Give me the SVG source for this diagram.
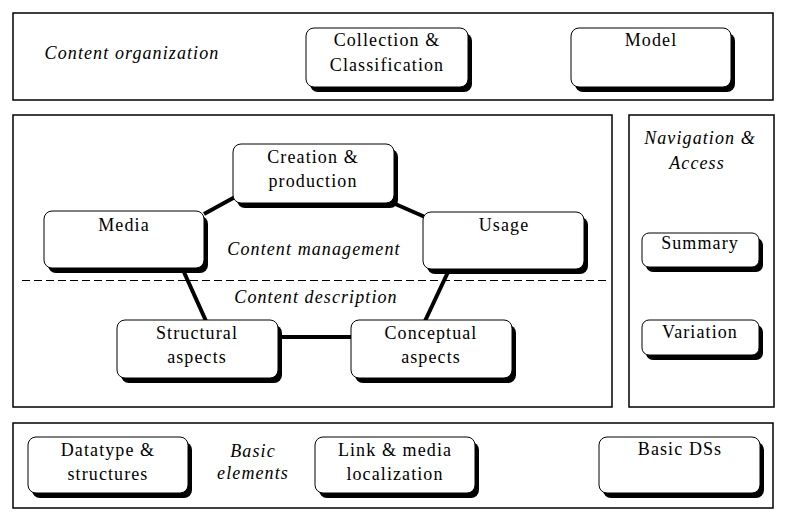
<svg xmlns="http://www.w3.org/2000/svg" width="791" height="518" viewBox="0 0 791 518">
<style>
.panel{fill:#fff;stroke:#000;stroke-width:1.5}
.sh{fill:#000}
.box{fill:#fff;stroke:#000;stroke-width:1}
.t{font-family:"Liberation Serif","Times New Roman",serif;font-size:18px;letter-spacing:1.1px;text-anchor:middle;fill:#000}
.i{font-style:italic}
.conn{stroke:#000;stroke-width:4;fill:none}
</style>
<rect width="791" height="518" fill="#fff"/>
<g id="panels">
<rect class="panel" x="13" y="13" width="760" height="87"/>
<rect class="panel" x="13" y="115" width="599" height="292"/>
<rect class="panel" x="629" y="115" width="145" height="292"/>
<rect class="panel" x="13" y="423" width="760" height="85"/>
<line x1="22" y1="280.5" x2="607" y2="280.5" stroke="#000" stroke-width="1" stroke-dasharray="8 4"/>
</g>
<g id="labels">
<text class="t i" x="132" y="59">Content organization</text>
<text class="t i" x="314" y="255">Content management</text>
<text class="t i" x="316" y="303">Content description</text>
<text class="t i" x="700" y="144">Navigation &amp;</text>
<text class="t i" x="697" y="169">Access</text>
<text class="t i" x="253" y="457">Basic</text>
<text class="t i" x="253" y="479">elements</text>
</g>
<g id="connectors">
<line class="conn" x1="204" y1="214" x2="235" y2="197"/>
<line class="conn" x1="393" y1="203" x2="425" y2="217"/>
<line class="conn" x1="183" y1="270" x2="206" y2="321"/>
<line class="conn" x1="448" y1="272" x2="425" y2="321"/>
<line class="conn" x1="278" y1="337" x2="351" y2="337"/>
</g>
<g id="collection">
<rect class="sh" x="310" y="33" width="162" height="59" rx="8"/>
<rect class="box" x="306" y="28" width="162" height="59" rx="8"/>
<text class="t" x="387" y="46">Collection &amp;</text>
<text class="t" x="387" y="71">Classification</text>
</g>
<g id="model">
<rect class="sh" x="575" y="33" width="160" height="59" rx="8"/>
<rect class="box" x="571" y="28" width="160" height="59" rx="8"/>
<text class="t" x="651" y="46">Model</text>
</g>
<g id="creation">
<rect class="sh" x="237" y="149" width="161" height="59" rx="8"/>
<rect class="box" x="233" y="144" width="161" height="59" rx="8"/>
<text class="t" x="313" y="163">Creation &amp;</text>
<text class="t" x="313" y="187">production</text>
</g>
<g id="media">
<rect class="sh" x="48" y="216" width="160" height="57" rx="8"/>
<rect class="box" x="44" y="211" width="160" height="57" rx="8"/>
<text class="t" x="124" y="231">Media</text>
</g>
<g id="usage">
<rect class="sh" x="427" y="217" width="161" height="57" rx="8"/>
<rect class="box" x="423" y="212" width="161" height="57" rx="8"/>
<text class="t" x="504" y="231">Usage</text>
</g>
<g id="structural">
<rect class="sh" x="121" y="325" width="161" height="58" rx="8"/>
<rect class="box" x="117" y="320" width="161" height="58" rx="8"/>
<text class="t" x="197" y="339">Structural</text>
<text class="t" x="197" y="363">aspects</text>
</g>
<g id="conceptual">
<rect class="sh" x="355" y="325" width="161" height="58" rx="8"/>
<rect class="box" x="351" y="320" width="161" height="58" rx="8"/>
<text class="t" x="431" y="339">Conceptual</text>
<text class="t" x="431" y="363">aspects</text>
</g>
<g id="summary">
<rect class="sh" x="646" y="238" width="117" height="34" rx="7"/>
<rect class="box" x="642" y="233" width="117" height="34" rx="7"/>
<text class="t" x="700" y="249">Summary</text>
</g>
<g id="variation">
<rect class="sh" x="646" y="325" width="117" height="35" rx="7"/>
<rect class="box" x="642" y="320" width="117" height="35" rx="7"/>
<text class="t" x="700" y="338">Variation</text>
</g>
<g id="datatype">
<rect class="sh" x="32" y="442" width="160" height="56" rx="8"/>
<rect class="box" x="28" y="437" width="160" height="56" rx="8"/>
<text class="t" x="108" y="456">Datatype &amp;</text>
<text class="t" x="108" y="480">structures</text>
</g>
<g id="link">
<rect class="sh" x="319" y="442" width="160" height="56" rx="8"/>
<rect class="box" x="315" y="437" width="160" height="56" rx="8"/>
<text class="t" x="395" y="456">Link &amp; media</text>
<text class="t" x="395" y="480">localization</text>
</g>
<g id="basicds">
<rect class="sh" x="603" y="442" width="161" height="56" rx="8"/>
<rect class="box" x="599" y="437" width="161" height="56" rx="8"/>
<text class="t" x="680" y="455">Basic DSs</text>
</g>
</svg>
